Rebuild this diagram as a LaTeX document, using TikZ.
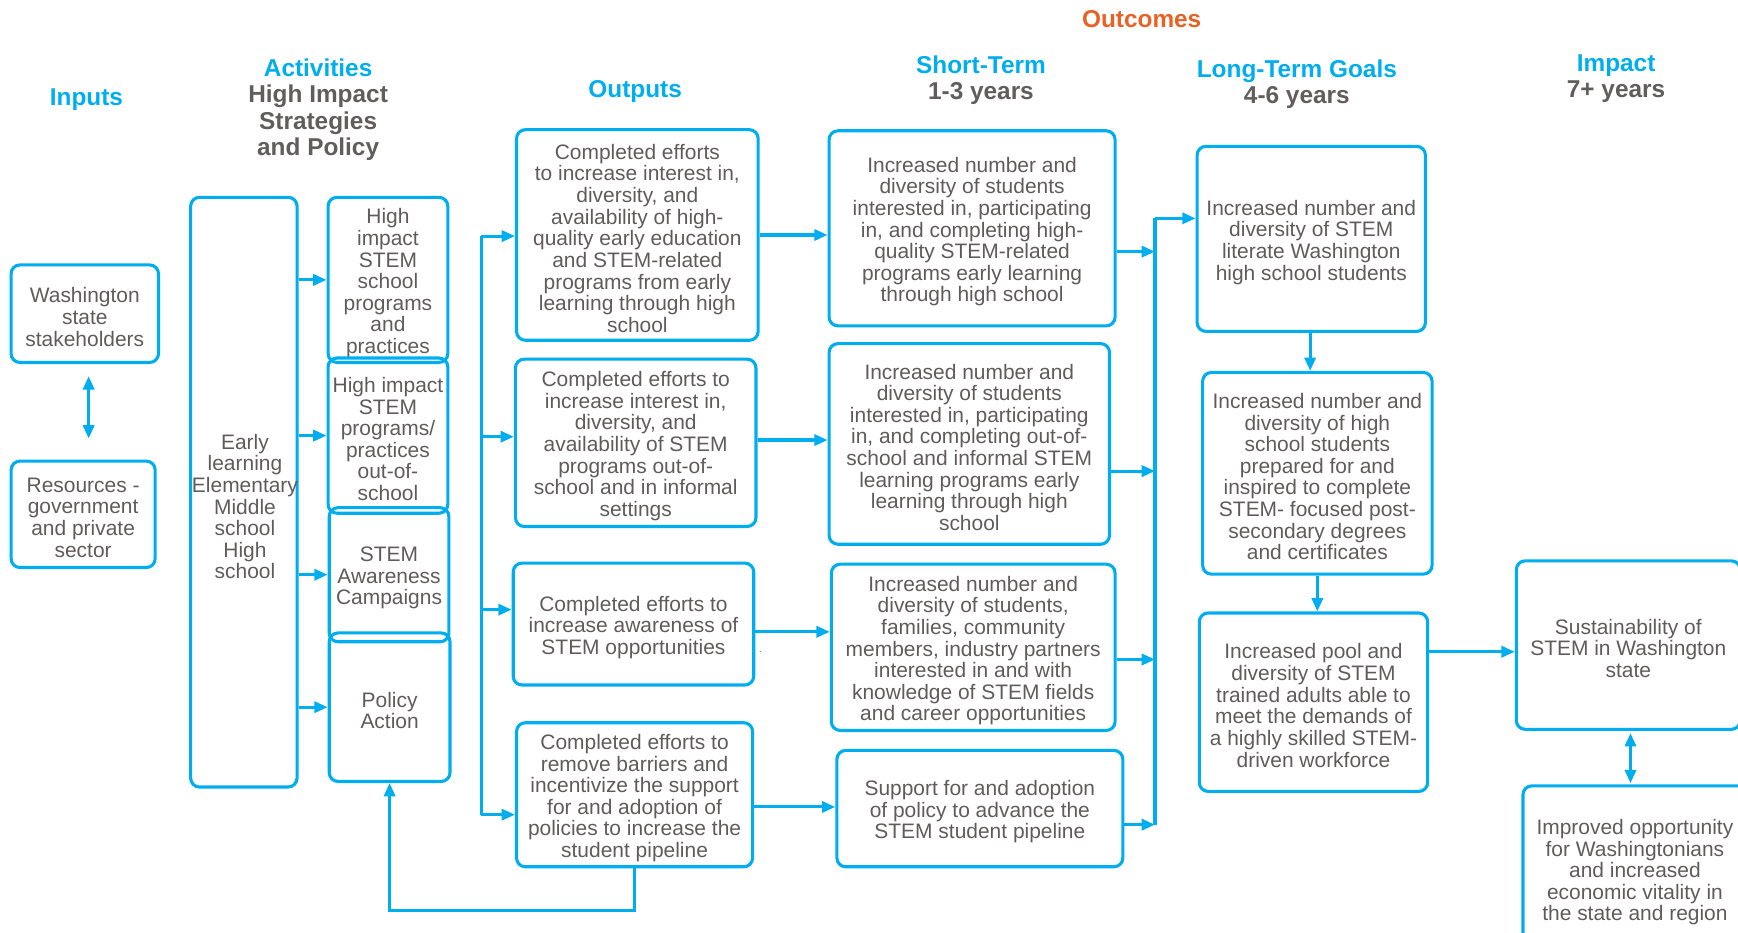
\documentclass[tikz,border=0pt]{standalone}
\usepackage{fontspec}
\setmainfont{Liberation Sans}
\usetikzlibrary{arrows.meta,calc}
\definecolor{cb}{RGB}{0,174,239}
\definecolor{tg}{RGB}{96,91,91}
\definecolor{hg}{RGB}{98,93,93}
\definecolor{org}{RGB}{232,98,36}
\newcommand{\bodyfnt}{\fontsize{18.9}{19.5}\selectfont}
\newcommand{\headfnt}{\fontsize{22}{24}\selectfont\bfseries}
\tikzset{
  box/.style={draw=cb, line width=2.8pt, rounded corners=8pt, inner sep=0pt},
  txt/.style={align=center, inner sep=0pt, font=\bodyfnt, text=tg},
  head/.style={align=center, inner sep=0pt, font=\headfnt, text=hg},
  conn/.style={draw=cb, line width=2.8pt},
  arr/.style={conn, -{Triangle[length=12pt,width=10pt]}},
  dbl/.style={conn, {Triangle[length=12pt,width=10pt]}-{Triangle[length=12pt,width=10pt]}},
}
% box: name, x, y, width, height, text
\newcommand{\bx}[6]{%
  \node[box, minimum width=#4pt, minimum height=#5pt] (#1) at (#2,#3) {};
  \node[txt] (#1-t) at ([yshift=-3pt]#1.center) {#6};}
\begin{document}
\begin{tikzpicture}[x=1pt,y=-1pt]
\useasboundingbox (0,0) rectangle (1568,841);
\clip (0,0) rectangle (1568,841);

% headings
\node[head, text=cb] (hin) at (78,89.5) {Inputs};
\node[head] (hact) at (287,99) {\textcolor{cb}{Activities}\\High Impact\\Strategies\\and Policy};
\node[head, text=cb] (hout) at (573,82.5) {Outputs};
\node[head, text=org] (houtc) at (1030,17) {Outcomes};
\node[head] (hshort) at (885,72.5) {\textcolor{cb}{Short-Term}\\1-3 years};
\node[head] (hlong) at (1170,76) {\textcolor{cb}{Long-Term Goals}\\4-6 years};
\node[head] (himp) at (1458,71) {\textcolor{cb}{Impact}\\7+ years};

% inputs
\bx{wa}{76.5}{283}{133}{88}{Washington\\state\\stakeholders}
\bx{res}{75}{464}{130}{96}{Resources -\\government\\and private\\sector}

% activities
\node[box, minimum width=96pt, minimum height=532pt] (early) at (220,444) {};
\node[txt] (early-t) at (221,457) {Early\\learning\\Elementary\\Middle\\school\\High\\school};
\bx{a1}{350}{252.5}{108}{149}{High\\impact\\STEM\\school\\programs\\and\\practices}
\bx{a2}{350}{393}{108}{140}{High impact\\STEM\\programs/\\practices\\out-of-\\school}
\bx{a3}{351}{518.5}{108}{121}{STEM\\Awareness\\Campaigns}
\bx{a4}{351.5}{638}{109}{134}{Policy\\Action}

% outputs
\bx{o1}{575}{212}{218}{190}{Completed efforts\\to increase interest in,\\diversity, and\\availability of high-\\quality early education\\and STEM-related\\programs from early\\learning through high\\school}
\bx{o2}{573.5}{399.5}{217}{151}{Completed efforts to\\increase interest in,\\diversity, and\\availability of STEM\\programs out-of-\\school and in informal\\settings}
\bx{o3}{571.5}{563}{217}{110}{Completed efforts to\\increase awareness of\\STEM opportunities}
\bx{o4}{572.5}{717}{213}{130}{Completed efforts to\\remove barriers and\\incentivize the support\\for and adoption of\\policies to increase the\\student pipeline}
\node[txt, text=cb, font=\fontsize{10}{10}\selectfont] (dot) at (686,588) {.};

% short-term
\bx{s1}{877}{206}{258}{176}{Increased number and\\diversity of students\\interested in, participating\\in, and completing high-\\quality STEM-related\\programs early learning\\through high school}
\bx{s2}{874.5}{400.5}{253}{181}{Increased number and\\diversity of students\\interested in, participating\\in, and completing out-of-\\school and informal STEM\\learning programs early\\learning through high\\school}
\bx{s3}{878}{584}{256}{150}{Increased number and\\diversity of students,\\families, community\\members, industry partners\\interested in and with\\knowledge of STEM fields\\and career opportunities}
\bx{s4}{884}{729.5}{258}{105}{Support for and adoption\\of policy to advance the\\STEM student pipeline}

% long-term
\bx{l1}{1183}{215.5}{206}{167}{Increased number and\\diversity of STEM\\literate Washington\\high school students}
\bx{l2}{1188.5}{427}{207}{182}{Increased number and\\diversity of high\\school students\\prepared for and\\inspired to complete\\STEM- focused post-\\secondary degrees\\and certificates}
\bx{l3}{1185}{633.5}{206}{161}{Increased pool and\\diversity of STEM\\trained adults able to\\meet the demands of\\a highly skilled STEM-\\driven workforce}

% impact
\bx{i1}{1469}{582}{202}{152}{Sustainability of\\STEM in Washington\\state}
\bx{i2}{1475}{784}{202}{150}{Improved opportunity\\for Washingtonians\\and increased\\economic vitality in\\the state and region}

% connectors: inputs
\draw[dbl] ([xshift=3.5pt,yshift=-11pt]wa.south) -- ([xshift=5pt,yshift=19pt]res.north);

% early -> activities
\draw[arr] (early.east |- a1) -- (a1.west);
\draw[arr] (early.east |- a2) -- (a2.west);
\draw[arr] (early.east |- a3) -- (a3.west);
\draw[arr] (early.east |- a4) -- (a4.west);

% output bus
\coordinate (b1) at (434,213);
\coordinate (b2) at (434,394);
\coordinate (b3) at (434,550);
\coordinate (b4) at (434,735);
\draw[conn] (b1) -- (b4);
\draw[arr] (b1) -- (b1 -| o1.west);
\draw[arr] (b2) -- (b2 -| o2.west);
\draw[arr] (b3) -- (b3 -| o3.west);
\draw[arr] (b4) -- (b4 -| o4.west);

% outputs -> short-term
\draw[arr] (o1.east) -- (o1.east -| s1.west);
\draw[arr] ([yshift=2.5pt]o2.east) -- ([yshift=2.5pt]o2.east -| s2.west);
\draw[arr] ([yshift=-7pt]o3.east) -- ([yshift=-7pt]o3.east -| s3.west);
\draw[arr] ([yshift=-11pt]o4.east) -- ([yshift=-11pt]o4.east -| s4.west);

% feedback loop
\draw[arr] (o4.south) -- ++(0,38) -| (a4.south);

% short-term -> collector
\coordinate (c0) at (1042,197);
\coordinate (c1) at (1042,227);
\coordinate (c2) at (1042,425);
\coordinate (c3) at (1042,595);
\coordinate (c4) at (1042,744);
\draw[conn] (c0) -- (c4);
\draw[arr] (c1 -| s1.east) -- (c1);
\draw[arr] (c2 -| s2.east) -- (c2);
\draw[arr] (c3 -| s3.east) -- (c3);
\draw[arr] (c4 -| s4.east) -- (c4);
\draw[arr] (c0) -- (c0 -| l1.west);

% long-term chain
\draw[arr] ([xshift=-1pt]l1.south) -- ([xshift=-1pt]l1.south |- l2.north);
\draw[arr] (l2.south) -- (l2.south |- l3.north);
\draw[arr] ([yshift=45.5pt]l3.east) -- ([yshift=45.5pt]l3.east -| i1.west);

% impact
\draw[dbl] ([xshift=2pt,yshift=-2pt]i1.south) -- ([xshift=2pt,yshift=1pt]i1.south |- i2.north);
\end{tikzpicture}
\end{document}
